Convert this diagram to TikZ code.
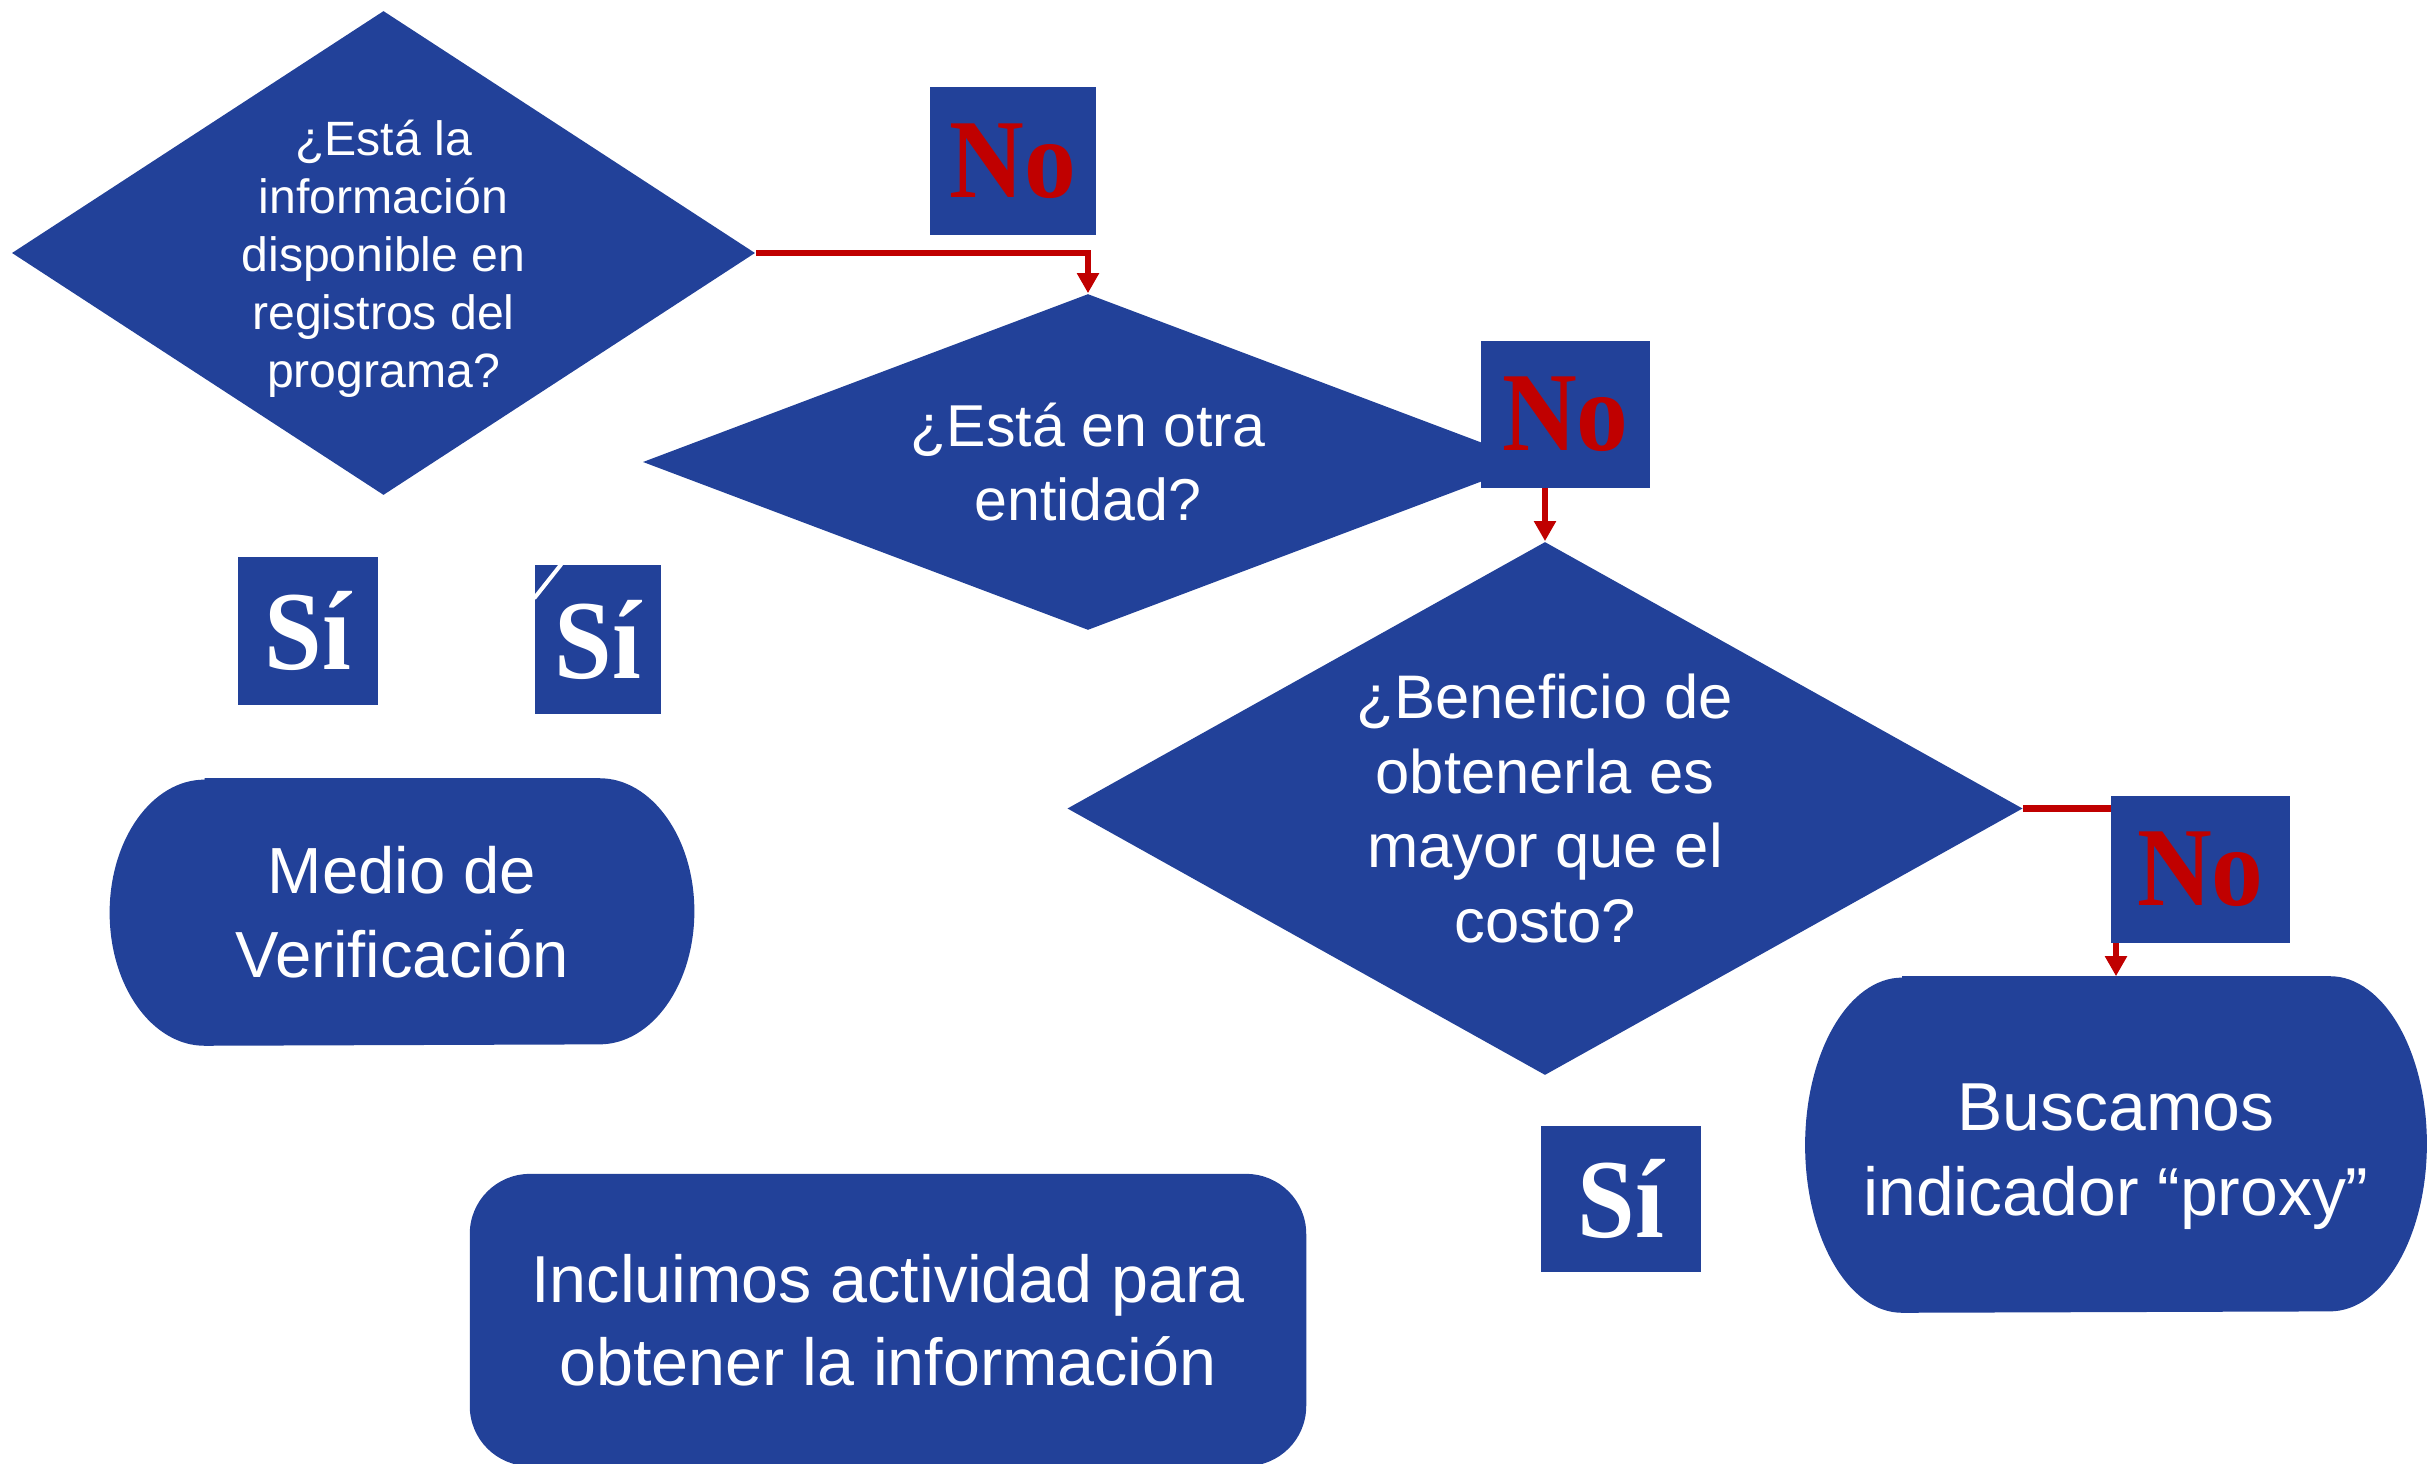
\documentclass[tikz,border=0pt]{standalone}
\usepackage{fontspec}
\setmainfont{Liberation Sans}
\newfontfamily\rotulo{Liberation Serif}[FakeStretch=0.92]
\usetikzlibrary{shapes.geometric,arrows.meta,backgrounds}
\definecolor{azul}{RGB}{34,65,153}
\definecolor{rojo}{RGB}{192,0,0}
\tikzset{
    pregunta/.style={
           diamond,
           fill=azul,
           text=white,
           inner sep=0pt,
           align=center,
           },
}
\tikzset{
    accion/.style={
           rectangle,
           text=white,
           inner sep=0pt,
           align=center,
           font=\fontsize{18.9}{23.6}\selectfont,
           },
}
\tikzset{
    nobox/.style={
           rectangle,
           fill=azul,
           text=rojo,
           inner sep=0pt,
           minimum height=1.47cm,
           font=\rotulo\bfseries\fontsize{32}{32}\selectfont,
           },
}
\tikzset{
    sibox/.style={
           nobox,
           text=white,
           },
}
\tikzset{
    flecha/.style={
           draw=rojo,
           line width=0.06cm,
           -{Triangle[width=0.21cm,length=0.2cm]},
           },
}

\begin{document}
\begin{tikzpicture}[x=0.01cm,y=-0.01cm]
\useasboundingbox (0,0) rectangle (2435,1464);
\node[pregunta,minimum width=7.43cm,minimum height=4.84cm,shape aspect=1.535,font=\fontsize{13.7}{16.5}\selectfont](d1) at (383.5,253) {\rule{0pt}{0.47cm}¿Está la\\información\\disponible en\\registros del\\programa?};
\node[pregunta,minimum width=8.9cm,minimum height=3.36cm,shape aspect=2.65,font=\fontsize{16.8}{21}\selectfont](d2) at (1088,462) {¿Está en otra\\entidad?};
\node[pregunta,minimum width=9.55cm,minimum height=5.33cm,shape aspect=1.79,font=\fontsize{17.5}{21.2}\selectfont](d3) at (1545,808.5) {¿Beneficio de\\obtenerla es\\mayor que el\\costo?};
\node[accion,minimum width=5.83cm,minimum height=2.66cm,font=\fontsize{18.55}{23.9}\selectfont](medio) at (402,912) {Medio de\\Verificación};
\node[accion,minimum width=6.2cm,minimum height=3.35cm,font=\fontsize{19.3}{23.9}\selectfont](proxy) at (2116,1144.5) {\rule{0pt}{0.71cm}Buscamos\\indicador “proxy”};
\node[accion,fill=azul,rounded corners=0.6cm,minimum width=8.36cm,minimum height=2.92cm](actividad) at (888,1320) {Incluimos actividad para\\obtener la información};
\begin{pgfonlayer}{background}
\fill[azul] ([xshift=0.95cm]medio.north west) -- ([xshift=-0.95cm]medio.north east)
    arc[start angle=90,end angle=-90,x radius=0.95cm,y radius=1.33cm]
    -- ([xshift=0.95cm]medio.south west)
    arc[start angle=270,end angle=90,x radius=0.95cm,y radius=1.33cm] -- cycle;
\fill[azul] ([xshift=0.97cm]proxy.north west) -- ([xshift=-0.97cm]proxy.north east)
    arc[start angle=90,end angle=-90,x radius=0.97cm,y radius=1.675cm]
    -- ([xshift=0.97cm]proxy.south west)
    arc[start angle=270,end angle=90,x radius=0.97cm,y radius=1.675cm] -- cycle;
\end{pgfonlayer}
\draw[flecha] (d1.east) -| (d2.north);
\draw[flecha] (d2.east) -| (d3.north);
\draw[flecha] (d3.east) -| (proxy.north);
\node[nobox,minimum width=1.66cm](no1) at (1013,161) {No};
\node[nobox,minimum width=1.69cm](no2) at (1565.5,414.5) {No};
\node[nobox,minimum width=1.79cm](no3) at (2200.5,869.5) {No};
\node[sibox,minimum width=1.40cm,minimum height=1.48cm](si1) at (308,631) {Sí};
\node[sibox,minimum width=1.26cm,minimum height=1.49cm](si2) at (598,639.5) {Sí};
\node[sibox,minimum width=1.60cm,minimum height=1.46cm](si3) at (1621,1199) {Sí};
\draw[white,line width=0.04cm] ([yshift=-0.34cm]si2.north west) -- ([xshift=0.27cm]si2.north west);
\end{tikzpicture}
\end{document}
